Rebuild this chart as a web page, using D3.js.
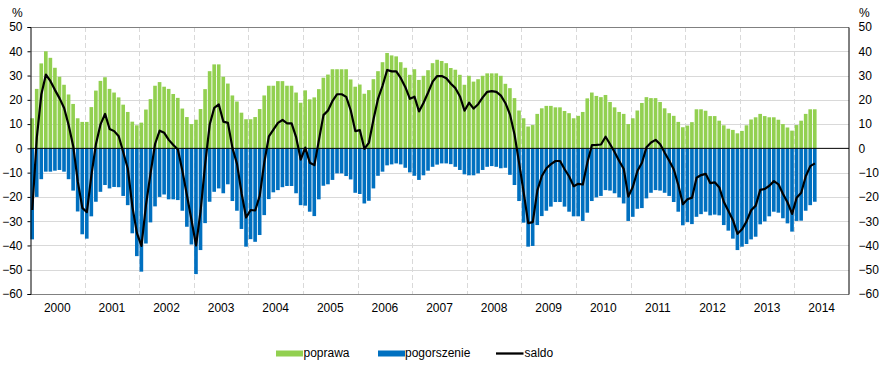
<!DOCTYPE html>
<html>
<head>
<meta charset="utf-8">
<script src="https://cdn.jsdelivr.net/npm/d3@7"></script>
<style>
  html, body { margin: 0; padding: 0; background: #fff; }
  svg { display: block; font-family: "Liberation Sans", Arial, sans-serif; }
</style>
</head>
<body>
<svg id="chart" width="883" height="365"></svg>
<script>
// ---- DATA (monthly, Jan 2000 – May 2014) ----
const years = [2000, 2001, 2002, 2003, 2004, 2005, 2006, 2007, 2008, 2009, 2010, 2011, 2012, 2013, 2014];
const yTicks = [50, 40, 30, 20, 10, 0, -10, -20, -30, -40, -50, -60];
const seriesNames = ["poprawa", "pogorszenie", "saldo"];

const poprawa = [
  12.4, 24.5, 35, 40, 37.3, 33.2, 29.5, 26.2, 22.2, 18.3, 12.4, 10.9,
  10.9, 17, 23.8, 27.8, 29.3, 24.5, 23, 21, 18, 15, 11, 9.5,
  10.6, 16, 20.3, 25.8, 27.3, 25.4, 24.5, 22.4, 20.8, 16.4, 12.9, 10,
  11.8, 16.2, 24.4, 31.8, 34.6, 34.6, 29.5, 26.7, 21.8, 19.3, 14.7, 12,
  12, 12.9, 16.2, 21.8, 25.8, 25.8, 27.7, 27.7, 25.8, 25.8, 23, 18.8,
  23.9, 20.2, 21, 24.4, 29.1, 30.4, 32.6, 32.6, 32.6, 32.6, 28.4, 25.4,
  26.3, 22.5, 24, 28.5, 31.8, 35.5, 39.3, 38.3, 37.9, 35.5, 33.2, 30.3,
  32.6, 28.2, 29.9, 32.2, 35.1, 36.5, 36, 35.1, 33.1, 32.4, 30.3, 26.2,
  29.9, 27.5, 28.5, 29.9, 30.9, 30.9, 30.9, 29.9, 26.6, 24.8, 20.7, 15.6,
  12.4, 9, 9.6, 14.2, 16.5, 17.5, 17.5, 16.9, 16.9, 15.4, 14.5, 12.4,
  13.4, 15, 20.6, 23, 21.6, 21.1, 22, 19.1, 16.9, 15, 14.2, 10,
  12.4, 15.6, 18.7, 21.1, 20.7, 20.7, 19.1, 16.5, 14.5, 13.4, 10.9, 8.7,
  9.4, 10.8, 16.1, 16.1, 15.5, 13.3, 13.3, 11.4, 9.5, 8.1, 7.6, 6.2,
  7.2, 9.5, 11.9, 12.8, 14.2, 13.3, 12.8, 12.8, 11.8, 10, 8.6, 7.3,
  9.6, 11.4, 14.2, 16.1, 16.1
];

const pogorszenie = [
  -37.5, -20, -12.7, -9.6, -9.6, -9.2, -8.9, -9.6, -12.7, -17.4, -26, -35.4,
  -37.2, -28, -22, -17.9, -15.1, -16.5, -15.9, -16, -19.6, -23.4, -35, -44.4,
  -50.8, -39.2, -30.5, -23.9, -20, -19, -21, -21, -21.3, -25.7, -32.3, -39.6,
  -51.8, -41.9, -30.8, -22, -17.9, -16.5, -18.5, -14.8, -21.7, -25.7, -33.2, -40.5,
  -37.4, -38.5, -35.7, -27.5, -20.9, -18.1, -17.2, -16, -15.5, -15.5, -18.5, -23.4,
  -23.6, -26.1, -27.9, -21, -15.4, -14.8, -13, -10.3, -10.3, -11.4, -12.8, -18.3,
  -18.8, -22.7, -21.6, -16.5, -11.3, -9.6, -7, -6.6, -6.2, -6.6, -8, -9.9,
  -11.3, -13, -11.1, -9.2, -7.6, -6.7, -6.2, -6.2, -6.5, -7.6, -8.9, -10.7,
  -11.1, -11.1, -10.3, -8.9, -7.6, -7.3, -7.6, -8.2, -8, -10.9, -15.1, -21.7,
  -30.6, -40.5, -40.2, -31.6, -27.9, -25.7, -24, -22.1, -22.1, -24, -26.1, -28,
  -28, -29.9, -26.5, -21.7, -20.2, -19.6, -17.2, -17.4, -18.5, -20.2, -22.7, -29.9,
  -28.2, -24.9, -24.6, -20.6, -18.3, -17.2, -17.4, -18.3, -19.6, -22.1, -26.1, -31.7,
  -30.4, -31.2, -28.2, -27.1, -26.1, -27.6, -27.3, -27.6, -31.6, -33.9, -37.2, -41.9,
  -40.5, -39.4, -37.5, -36.4, -31.3, -30.1, -28, -26.1, -26.5, -28.8, -30.9, -34.3,
  -29.9, -29.8, -25.7, -23.4, -22
];

const saldo = [
  -25.4, 4.5, 22.3, 30.4, 27.7, 24, 20.6, 16.6, 9.5, 0.9, -13.6, -24.5,
  -26.3, -11, 1.8, 9.9, 14.2, 8, 7.1, 5, -1.6, -8.4, -24, -34.9,
  -40.2, -23.2, -10.2, 1.9, 7.3, 6.4, 3.5, 1.4, -0.5, -9.3, -19.4, -29.6,
  -40, -25.7, -6.4, 9.8, 16.7, 18.1, 11, 10.5, 0.1, -6.4, -18.5, -28.5,
  -25.4, -25.6, -19.5, -5.7, 4.9, 7.7, 10.5, 11.7, 10.3, 10.3, 4.5, -4.6,
  0.3, -5.9, -6.9, 3.4, 13.7, 15.6, 19.6, 22.3, 22.3, 21.2, 15.6, 7.1,
  7.5, -0.2, 2.4, 12, 20.5, 25.9, 32.3, 31.7, 31.7, 28.9, 25.2, 20.4,
  21.3, 15.2, 18.8, 23, 27.5, 29.8, 29.8, 28.9, 26.6, 24.8, 21.4, 15.5,
  18.8, 16.4, 18.2, 21, 23.3, 23.6, 23.3, 21.7, 18.6, 13.9, 5.6, -6.1,
  -18.2, -30.8, -30.4, -17.4, -11.4, -8.2, -6.5, -5.2, -5.2, -8.6, -11.6, -15.6,
  -14.6, -14.9, -5.8, 1.3, 1.4, 1.6, 4.8, 1.7, -1.6, -5.2, -8.5, -19.9,
  -15.8, -9.3, -5.9, 0.5, 2.4, 3.5, 1.7, -1.8, -5.1, -8.7, -15.2, -23,
  -21, -20.3, -12.1, -11, -10.5, -14.3, -14, -16.1, -22.1, -25.8, -29.6, -35.2,
  -33.3, -30, -25.5, -23.6, -17.1, -16.7, -15.4, -13.5, -14.8, -18.8, -22.3, -27,
  -20.3, -18.3, -11.5, -7.3, -6.2
];

// ---- LAYOUT ----
const L = 30, R = 849, T = 27, B = 294;
const GREEN = "#92D050", BLUE = "#0070C0", GRID = "#D9D9D9";

const months = years.flatMap(y => d3.range(1, 13).map(m => `${y}-${m}`));
const x = d3.scaleBand().domain(months).range([L, R]).padding(0);
const y = d3.scaleLinear().domain([-60, 50]).range([B, T]);
const bw = x.bandwidth();

const svg = d3.select("#chart");

// horizontal gridlines
svg.append("g").selectAll("line")
  .data(yTicks.filter(t => t !== 50 && t !== -60 && t !== 0))
  .join("line")
  .attr("x1", L).attr("x2", R)
  .attr("y1", d => Math.round(y(d)) + 0.5).attr("y2", d => Math.round(y(d)) + 0.5)
  .attr("stroke", GRID).attr("stroke-width", 1);

// vertical dashed year gridlines
svg.append("g").selectAll("line")
  .data(years.slice(1))
  .join("line")
  .attr("x1", d => Math.round(x(`${d}-1`)) + 0.5).attr("x2", d => Math.round(x(`${d}-1`)) + 0.5)
  .attr("y1", T).attr("y2", B)
  .attr("stroke", GRID).attr("stroke-width", 1).attr("stroke-dasharray", "5,3");

const n = poprawa.length;
const idx = d3.range(n);

// poprawa bars
svg.append("g").selectAll("rect")
  .data(idx)
  .join("rect")
  .attr("x", i => x(months[i]) + 0.35)
  .attr("width", bw * 0.8)
  .attr("y", i => y(poprawa[i]))
  .attr("height", i => y(0) - y(poprawa[i]))
  .attr("fill", GREEN);

// pogorszenie bars
svg.append("g").selectAll("rect")
  .data(idx)
  .join("rect")
  .attr("x", i => x(months[i]) + 0.35)
  .attr("width", bw * 0.8)
  .attr("y", y(0))
  .attr("height", i => y(pogorszenie[i]) - y(0))
  .attr("fill", BLUE);

// zero line
svg.append("line")
  .attr("x1", L).attr("x2", R)
  .attr("y1", y(0)).attr("y2", y(0))
  .attr("stroke", "#000").attr("stroke-width", 1);

// saldo line
const line = d3.line()
  .x((d, i) => x(months[i]) + bw / 2)
  .y(d => y(d));
svg.append("path")
  .datum(saldo)
  .attr("d", line)
  .attr("fill", "none")
  .attr("stroke", "#000")
  .attr("stroke-width", 2.2)
  .attr("stroke-linejoin", "round");

// frame
svg.append("line").attr("x1", L).attr("x2", R).attr("y1", T + 0.5).attr("y2", T + 0.5).attr("stroke", "#808080");
svg.append("line").attr("x1", L).attr("x2", R).attr("y1", B + 0.5).attr("y2", B + 0.5).attr("stroke", "#808080");

// left axis
const yAxisL = d3.axisLeft(y).tickValues(yTicks).tickSize(3).tickPadding(5).tickFormat(d3.format("d"));
const gL = svg.append("g").attr("transform", `translate(${L + 0.5},0)`).call(yAxisL);
gL.select(".domain").attr("stroke", "#000");
gL.selectAll(".tick line").attr("stroke", "#000");
gL.selectAll("text").attr("font-size", 12).attr("fill", "#000").attr("font-family", "Liberation Sans, Arial, sans-serif").attr("x", -8);

// right axis
const yAxisR = d3.axisRight(y).tickValues(yTicks).tickSize(0).tickPadding(10).tickFormat(d3.format("d"));
const gR = svg.append("g").attr("transform", `translate(${R - 0.5},0)`).call(yAxisR);
gR.select(".domain").attr("stroke", "#000");
gR.selectAll("text").attr("font-size", 12).attr("fill", "#000").attr("font-family", "Liberation Sans, Arial, sans-serif");

// % labels
svg.append("text").attr("x", 12).attr("y", 16.5).attr("font-size", 12).text("%");
svg.append("text").attr("x", 859).attr("y", 16.5).attr("font-size", 12).text("%");

// year labels
svg.append("g").selectAll("text")
  .data(years)
  .join("text")
  .attr("x", d => x(`${d}-1`) + bw * 6)
  .attr("y", 312)
  .attr("text-anchor", "middle")
  .attr("font-size", 12)
  .attr("fill", "#000")
  .text(d => d);

// legend
const lg = svg.append("g");
lg.append("rect").attr("x", 276).attr("y", 350.5).attr("width", 27).attr("height", 6).attr("fill", GREEN);
lg.append("text").attr("x", 303.5).attr("y", 357).attr("font-size", 12).text(seriesNames[0]);
lg.append("rect").attr("x", 378).attr("y", 350.5).attr("width", 27).attr("height", 6).attr("fill", BLUE);
lg.append("text").attr("x", 405).attr("y", 357).attr("font-size", 12).text(seriesNames[1]);
lg.append("line").attr("x1", 496).attr("x2", 523.5).attr("y1", 353.5).attr("y2", 353.5).attr("stroke", "#000").attr("stroke-width", 2.3);
lg.append("text").attr("x", 524.5).attr("y", 357).attr("font-size", 12).text(seriesNames[2]);
</script>
</body>
</html>
